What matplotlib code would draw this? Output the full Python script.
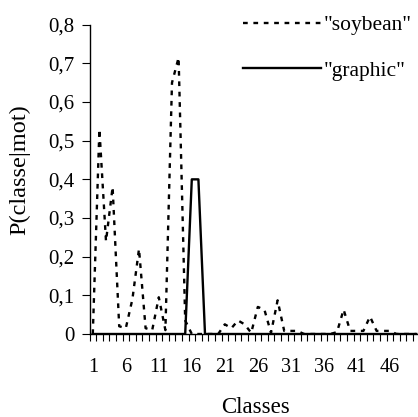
import matplotlib
matplotlib.use("Agg")
import matplotlib.pyplot as plt
import numpy as np
from matplotlib.ticker import FixedLocator, FuncFormatter

plt.rcParams['font.family'] = ['Liberation Serif', 'DejaVu Serif']

classes = list(range(1, 51))
soybean = [0.0, 0.53, 0.24, 0.38, 0.02, 0.015, 0.09, 0.22, 0.015, 0.01,
           0.095, 0.01, 0.65, 0.715, 0.035, 0.0, 0.0, 0.0, 0.0, 0.0,
           0.025, 0.015, 0.035, 0.025, 0.003, 0.07, 0.063, 0.003, 0.087, 0.008,
           0.008, 0.008, 0.0, 0.0, 0.0, 0.0, 0.0, 0.005, 0.063, 0.008,
           0.008, 0.008, 0.045, 0.008, 0.008, 0.008, 0.0, 0.0, 0.0, 0.0]
graphic = [0.0] * 15 + [0.4, 0.4] + [0.0] * 33
xtick_labels = [1, 6, 11, 16, 21, 26, 31, 36, 41, 46]
ytick_values = [0, 0.1, 0.2, 0.3, 0.4, 0.5, 0.6, 0.7, 0.8]

W, H = 418, 417
fig = plt.figure(figsize=(W / 100, H / 100), dpi=100)
ax_left, ax_bottom_px, ax_top_px = 89.5, 334, 24.7
ax = fig.add_axes([ax_left / W, 1 - ax_bottom_px / H, 330 / W, (ax_bottom_px - ax_top_px) / H])

l1, = ax.plot(classes, soybean, color='black', lw=1.7, dashes=(2.0, 2.4), label='"soybean"')
l2, = ax.plot(classes, graphic, color='black', lw=1.7, label='"graphic"')

ax.set_xlim(0.5, 50.5)
ax.set_ylim(0, 0.8)
for s in ['top', 'right']:
    ax.spines[s].set_visible(False)
for s in ['left', 'bottom']:
    ax.spines[s].set_linewidth(1.0)

ax.xaxis.set_major_locator(FixedLocator(xtick_labels))
ax.xaxis.set_minor_locator(FixedLocator(np.arange(0.5, 51, 1.0)))
ax.tick_params(axis='x', which='major', length=0, pad=17, labelsize=14.5)
ax.tick_params(axis='x', which='minor', length=5, width=0.8, direction='out')
ax.set_yticks(ytick_values)
ax.yaxis.set_major_formatter(FuncFormatter(lambda v, p: ('%g' % v).replace('.', ',')))
ax.tick_params(axis='y', length=6, width=0.8, pad=5, labelsize=15)

ax_h = ax_bottom_px - ax_top_px
ax.set_xlabel('Classes', fontsize=16.5)
ax.xaxis.set_label_coords((255 - ax_left) / 330, (ax_bottom_px - 397) / ax_h)
ax.set_ylabel('P(classe|mot)', fontsize=17.5)
ax.yaxis.set_label_coords((30 - ax_left) / 330, (ax_bottom_px - 170) / ax_h)

fig.legend(handles=[l1, l2], loc='upper left', bbox_to_anchor=(243 / W, 1 - 15 / H),
           frameon=False, fontsize=15.5, handlelength=3.6, handletextpad=0.15,
           labelspacing=1.19, borderpad=0, borderaxespad=0)

fig.savefig('out.png', dpi=100)
